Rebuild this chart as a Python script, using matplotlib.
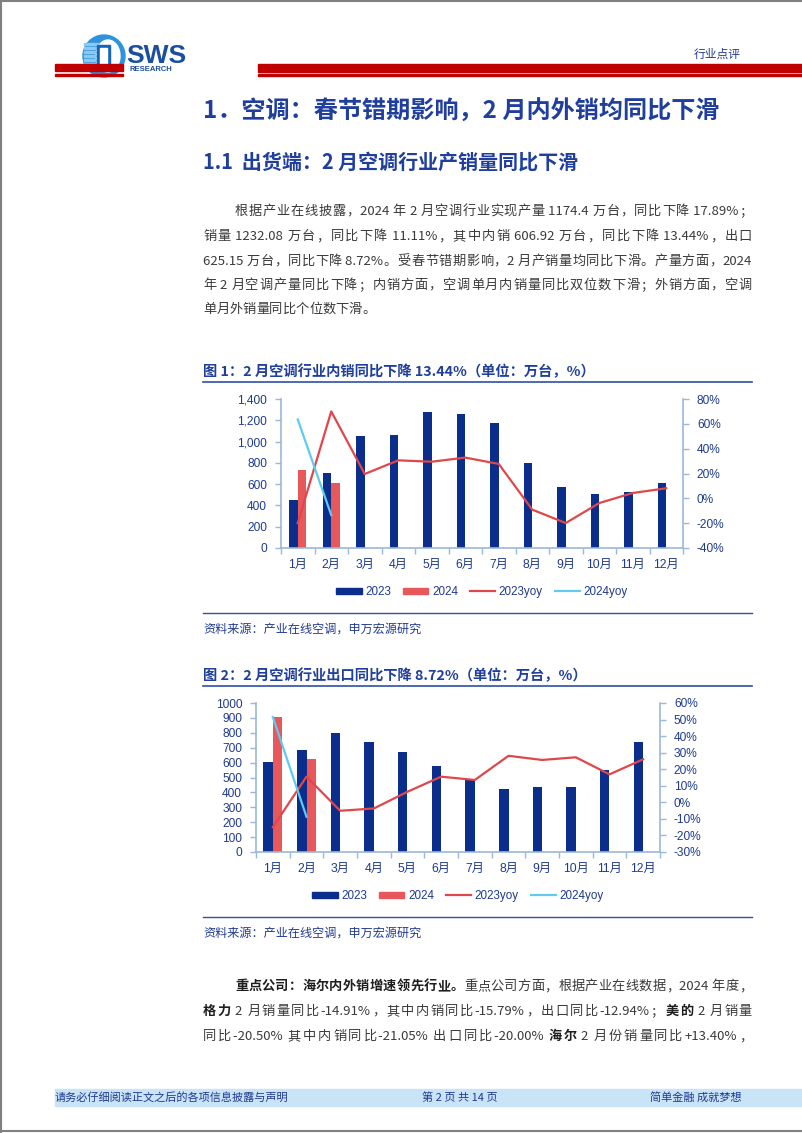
import numpy as np
import matplotlib
matplotlib.use('Agg')
import matplotlib.pyplot as plt
from matplotlib.patches import Rectangle, Ellipse, Patch
from matplotlib.lines import Line2D
from matplotlib.font_manager import FontProperties
from matplotlib.ticker import FuncFormatter, MultipleLocator

# ---- data ----
months = ['1月', '2月', '3月', '4月', '5月', '6月', '7月', '8月', '9月', '10月', '11月', '12月']
legend_labels = ['2023', '2024', '2023yoy', '2024yoy']

dom_2023 = [448, 701, 1055, 1065, 1275, 1262, 1178, 802, 573, 507, 526, 611]
dom_2024 = [733, 606.92]
dom_yoy_2023 = [-20, 70, 19.6, 30.6, 29.5, 32.8, 27.7, -9.1, -19.9, -3.8, 4.3, 8.1]
dom_yoy_2024 = [63.5, -13.44]

exp_2023 = [604, 685, 802, 739, 672, 575, 483, 422, 434, 434, 551, 739]
exp_2024 = [905, 625.15]
exp_yoy_2023 = [-15, 15.5, -5.1, -3.7, 6.4, 15.5, 13.5, 28.1, 25.6, 27.2, 16.9, 26]
exp_yoy_2024 = [51.5, -8.72]

# ---- page text ----
title_main = '1．空调：春节错期影响，2 月内外销均同比下滑'
title_sub = '1.1  出货端：2 月空调行业产销量同比下滑'
para1 = [
    '根据产业在线披露，2024 年 2 月空调行业实现产量 1174.4 万台，同比下降 17.89%；',
    '销量 1232.08 万台，同比下降 11.11%，其中内销 606.92 万台，同比下降 13.44%，出口',
    '625.15 万台，同比下降 8.72%。受春节错期影响，2 月产销量均同比下滑。产量方面，2024',
    '年 2 月空调产量同比下降；内销方面，空调单月内销量同比双位数下滑；外销方面，空调',
    '单月外销量同比个位数下滑。',
]
para2 = [
    [('重点公司：海尔内外销增速领先行业。', True), ('重点公司方面，根据产业在线数据，2024 年度，', False)],
    [('格力', True), (' 2 月销量同比-14.91%，其中内销同比-15.79%，出口同比-12.94%；', False),
     ('美的', True), (' 2 月销量', False)],
    [('同比-20.50% 其中内销同比-21.05% 出口同比-20.00% ', False), ('海尔', True),
     (' 2 月份销量同比+13.40%，', False)],
]
fig1_title = '图 1：2 月空调行业内销同比下降 13.44%（单位：万台，%）'
fig2_title = '图 2：2 月空调行业出口同比下降 8.72%（单位：万台，%）'
source = '资料来源：产业在线空调，申万宏源研究'

W, H = 802, 1133
CJK = ['Noto Sans CJK SC', 'DejaVu Sans']
plt.rcParams['font.family'] = ['Liberation Sans', 'Noto Sans CJK SC']

navy = '#0B2D8C'
salmon = '#E8575A'
red = '#E0474B'
cyan = '#5FCBF0'
axc = '#9BB7D9'
tc = '#1F3A8F'
blue_t = '#1F3E9E'
body_c = '#3A3A3A'

fig = plt.figure(figsize=(W / 100, H / 100), dpi=100)
page = fig.add_axes([0, 0, 1, 1])
page.set_xlim(0, W)
page.set_ylim(H, 0)
page.axis('off')
renderer = fig.canvas.get_renderer()


def adv(s, fp):
    # advance width of s in pixels
    w1 = renderer.get_text_width_height_descent('国' + s + '国', fp, False)[0]
    w0 = renderer.get_text_width_height_descent('国国', fp, False)[0]
    return w1 - w0


def text_line(x0, y, runs, size, color=body_c, bold_color='#1E1E1E', right=None):
    toks = []
    for s, b in runs:
        cur = ''
        for ch in s:
            if ord(ch) < 128:
                cur += ch
            else:
                if cur:
                    toks.append((cur, b))
                    cur = ''
                toks.append((ch, b))
        if cur:
            toks.append((cur, b))
    items = []
    for s, b in toks:
        fp = FontProperties(family=CJK, size=size, weight='bold' if b else 'normal')
        items.append((s, b, adv(s, fp)))
    natural = sum(w for _, _, w in items)
    gap = 0.0
    if right is not None and len(items) > 1:
        gap = (right - x0 - natural) / (len(items) - 1)
    x = x0
    for s, b, w in items:
        page.text(x, y, s, fontsize=size, family=CJK, va='baseline', ha='left',
                  fontweight='bold' if b else 'normal', color=bold_color if b else color)
        x += w + gap


# ---- page frame and header ----
page.plot([1, 1], [0, H], color='#808080', lw=1.5)
page.plot([0, W], [1, 1], color='#808080', lw=1.5)
page.plot([0, W], [H - 2, H - 2], color='#808080', lw=1.5)

page.add_patch(Ellipse((104, 56), 42, 42, color='#2F92DD', zorder=2))
page.add_patch(Ellipse((108, 56), 24, 32, color='white', zorder=3))
for yy in range(43, 71, 4):
    page.add_patch(Rectangle((84, yy), 14, 2, color='#8CC8F0', zorder=4))
page.add_patch(Rectangle((97, 45), 13, 22, color='#1565C0', zorder=4))
page.add_patch(Rectangle((100, 48), 7, 16, color='white', zorder=5))
page.add_patch(Rectangle((55, 64), 68, 7, color='#C00000', zorder=6))
page.add_patch(Rectangle((55, 74), 68, 2, color='#C00000', zorder=6))
page.text(126, 63, 'SWS', fontsize=19, fontweight='bold', color='#1A4FA0',
          family=['Liberation Sans'], va='baseline')
page.text(129, 71, 'RESEARCH', fontsize=5.5, fontweight='bold', color='#1A4FA0',
          family=['Liberation Sans'], va='baseline')
page.add_patch(Rectangle((258, 64), W - 258, 8, color='#C00000'))
page.add_patch(Rectangle((258, 74), W - 258, 2, color='#C00000'))
page.text(694, 58, '行业点评', fontsize=8.5, family=CJK, color=tc, va='baseline')

# ---- headings and paragraph ----
page.text(203, 119, title_main, fontsize=17.4, fontweight='bold', family=CJK, color=blue_t, va='baseline')
page.text(203, 169, title_sub, fontsize=14.4, fontweight='bold', family=CJK, color=blue_t, va='baseline')

base = [215, 240, 265, 289, 313]
for i, line in enumerate(para1):
    x0 = 235 if i == 0 else 203
    right = 752 if i < len(para1) - 1 else None
    text_line(x0, base[i], [(line, False)], 9.5, right=right)

base2 = [990, 1015, 1040]
for i, runs in enumerate(para2):
    x0 = 235 if i == 0 else 203
    text_line(x0, base2[i], runs, 9.5, right=752)


# ---- charts ----
def draw_chart(box, y23, y24, yoy23, yoy24, ylim, ystep, rlim, rstep, lfmt, bw, title, ty):
    l, t, r, b = box
    page.text(203, ty, title, fontsize=10.3, fontweight='bold', family=CJK, color=blue_t, va='baseline')
    page.plot([203, 752], [ty + 6, ty + 6], color='#2F4FA8', lw=1.2)
    page.plot([203, 752], [b + 65, b + 65], color='#2F4FA8', lw=1.0)
    page.text(203, b + 85, source, fontsize=8.7, family=CJK, color=tc, va='baseline')

    ax = fig.add_axes([l / W, 1 - b / H, (r - l) / W, (b - t) / H])
    x = np.arange(len(months))
    ax.bar(x - bw / 2, y23, bw, color=navy, zorder=2)
    ax.bar(np.arange(len(y24)) + bw / 2, y24, bw, color=salmon, zorder=2)
    ax.set_xlim(-0.5, 11.5)
    ax.set_ylim(*ylim)
    ax.yaxis.set_major_locator(MultipleLocator(ystep))
    ax.yaxis.set_major_formatter(FuncFormatter(lfmt))
    ax.set_xticks(x)
    ax.set_xticklabels(months)
    ax.set_xticks(np.arange(-0.5, 12, 1), minor=True)
    ax.tick_params(axis='x', which='major', length=0, pad=8, labelsize=8.8, labelcolor=tc)
    ax.tick_params(axis='x', which='minor', length=4, color=axc, width=1)
    ax.tick_params(axis='y', length=4, color=axc, width=1, pad=6, labelsize=8.6, labelcolor=tc)
    for s in ['top', 'right']:
        ax.spines[s].set_visible(False)
    for s in ['left', 'bottom']:
        ax.spines[s].set_color(axc)
        ax.spines[s].set_linewidth(1.2)

    ax2 = ax.twinx()
    ax2.plot(x, yoy23, color=red, lw=1.6)
    ax2.plot(np.arange(len(yoy24)), yoy24, color=cyan, lw=1.6)
    ax2.set_ylim(*rlim)
    ax2.yaxis.set_major_locator(MultipleLocator(rstep))
    ax2.yaxis.set_major_formatter(FuncFormatter(lambda v, p: f'{v:.0f}%'))
    ax2.tick_params(axis='y', length=4, color=axc, width=1, pad=6, labelsize=8.6, labelcolor=tc)
    for s in ['top', 'left', 'bottom']:
        ax2.spines[s].set_visible(False)
    ax2.spines['right'].set_color(axc)
    ax2.spines['right'].set_linewidth(1.2)

    handles = [Patch(color=navy), Patch(color=salmon),
               Line2D([], [], color=red, lw=1.6), Line2D([], [], color=cyan, lw=1.6)]
    ax.legend(handles, legend_labels, loc='center', ncol=4, frameon=False,
              bbox_to_anchor=((l + r) / 2 / W, 1 - (b + 44) / H), bbox_transform=fig.transFigure,
              fontsize=8.4, labelcolor=tc, handlelength=2.2, handleheight=0.5,
              handletextpad=0.3, columnspacing=1.0)


draw_chart((281, 399, 683, 548), dom_2023, dom_2024, dom_yoy_2023, dom_yoy_2024,
           (0, 1400), 200, (-40, 80), 20, lambda v, p: f'{v:,.0f}', 0.25, fig1_title, 376)
draw_chart((256, 703, 660, 852), exp_2023, exp_2024, exp_yoy_2023, exp_yoy_2024,
           (0, 1000), 100, (-30, 60), 10, lambda v, p: f'{v:.0f}', 0.28, fig2_title, 680)

# ---- footer ----
page.add_patch(Rectangle((55, 1089), W - 55, 17, color='#C9E3F7'))
page.text(55, 1101, '请务必仔细阅读正文之后的各项信息披露与声明', fontsize=8, family=CJK, color=tc, va='baseline')
page.text(460, 1101, '第 2 页 共 14 页', fontsize=8, family=CJK, color=tc, va='baseline', ha='center')
page.text(650, 1101, '简单金融 成就梦想', fontsize=8, family=CJK, color=tc, va='baseline')

fig.savefig('out.png', dpi=100)
